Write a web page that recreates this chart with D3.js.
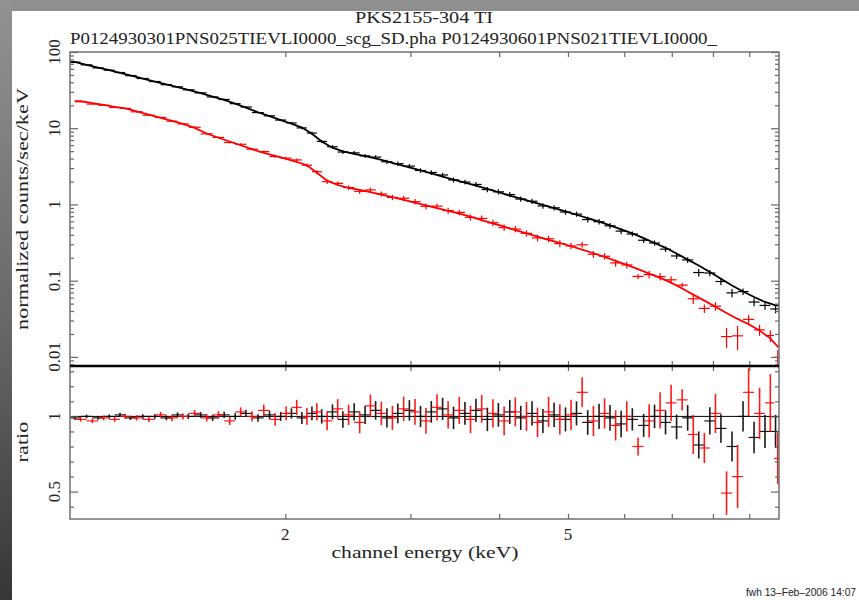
<!DOCTYPE html>
<html>
<head>
<meta charset="utf-8">
<script src="https://cdn.jsdelivr.net/npm/d3@7"></script>
<style>
body{margin:0;background:#fff;}
svg{display:block;}
text{font-family:"Liberation Serif","DejaVu Serif",serif;fill:#222;}
</style>
</head>
<body>
<div id="chart"></div>
<script>
// Channel energies (keV), model and ratio
var enBlack = [1.01,1.05,1.09,1.13,1.17,1.21,1.26,1.31,1.36,1.41,
	1.46,1.52,1.58,1.64,1.70,1.76,1.83,1.90,1.97,2.04,
	2.11,2.18,2.25,2.33,2.41,2.50,2.59,2.68,2.78,2.88,
	2.99,3.10,3.21,3.33,3.45,3.58,3.71,3.85,3.99,4.14,
	4.29,4.45,4.61,4.78,4.96,5.14,5.33,5.53,5.73,5.94,
	6.16,6.39,6.62,6.86,7.11,7.37,7.64,7.92,8.21,8.51,
	8.82,9.14,9.47,9.80];
var modelBlack = [74.2,67.9,62.5,57.7,53.3,49.4,44.9,41.0,37.6,34.6,
	31.9,28.8,26.0,23.6,21.0,18.6,16.2,14.4,12.8,11.5,
	10.2,8.47,6.71,5.55,4.97,4.61,4.30,4.02,3.67,3.36,
	3.06,2.79,2.55,2.32,2.12,1.93,1.76,1.60,1.45,1.31,
	1.19,1.08,0.986,0.895,0.811,0.733,0.660,0.594,0.530,0.471,
	0.418,0.361,0.312,0.270,0.227,0.189,0.158,0.130,0.106,0.0865,
	0.0720,0.0610,0.0526,0.0473];
var ratioBlack = [0.99,1.00,0.99,1.00,1.01,0.99,1.00,1.00,0.99,1.01,
	1.00,1.01,0.99,1.01,1.00,1.02,0.99,1.01,1.00,1.02,
	0.99,1.02,1.00,1.03,0.98,1.03,1.01,1.04,0.99,1.02,
	1.04,1.00,1.03,1.05,0.99,1.02,1.04,0.98,1.01,1.03,
	0.99,1.02,0.97,1.01,0.98,1.02,0.96,1.00,0.99,0.95,
	0.98,0.94,1.00,0.96,0.93,0.99,0.81,0.97,0.92,0.80,
	1.00,0.86,0.90,0.90];
var errBlack = [0.012,0.012,0.013,0.013,0.014,0.014,0.015,0.015,0.016,0.017,
	0.018,0.019,0.020,0.021,0.022,0.024,0.025,0.027,0.030,0.034,
	0.040,0.045,0.048,0.050,0.055,0.058,0.060,0.062,0.064,0.066,
	0.068,0.070,0.072,0.074,0.075,0.076,0.077,0.078,0.079,0.080,
	0.080,0.080,0.080,0.080,0.080,0.080,0.082,0.084,0.086,0.088,
	0.074,0.076,0.078,0.080,0.082,0.085,0.090,0.090,0.095,0.100,
	0.100,0.105,0.110,0.110];

var enRed = [1.03,1.07,1.11,1.15,1.19,1.235,1.285,1.335,1.385,1.435,
	1.49,1.55,1.61,1.67,1.73,1.795,1.865,1.935,2.005,2.075,
	2.145,2.215,2.29,2.37,2.455,2.545,2.635,2.73,2.83,2.935,
	3.045,3.155,3.27,3.39,3.515,3.645,3.78,3.92,4.065,4.215,
	4.37,4.53,4.695,4.87,5.05,5.235,5.43,5.63,5.835,6.05,
	6.275,6.505,6.74,6.985,7.24,7.505,7.78,8.065,8.36,8.665,
	8.98,9.305,9.635,9.87];
var modelRed = [22.7,21.4,20.2,19.1,18.2,16.6,15.1,13.7,12.5,11.4,
	10.1,8.53,7.50,6.70,5.98,5.31,4.74,4.34,3.97,3.62,
	3.27,2.61,2.05,1.80,1.65,1.55,1.45,1.35,1.25,1.15,
	1.057,0.975,0.897,0.824,0.757,0.690,0.625,0.565,0.511,0.462,
	0.418,0.379,0.344,0.313,0.283,0.255,0.229,0.205,0.182,0.161,
	0.142,0.124,0.109,0.0942,0.0788,0.0657,0.0548,0.0454,0.0377,0.0315,
	0.0268,0.0222,0.0175,0.0137];
var ratioRed = [0.98,0.97,0.99,0.98,1.00,0.99,0.98,1.01,0.99,1.00,
	1.02,0.99,1.01,0.97,1.03,1.00,1.04,0.98,1.02,1.06,
	1.00,1.03,0.97,1.05,1.01,0.96,1.07,1.02,0.99,1.05,
	1.03,0.97,1.06,1.01,1.04,0.98,1.05,1.02,0.97,1.03,
	1.00,0.96,1.03,0.98,1.01,1.16,0.97,1.02,0.94,1.00,
	0.80,0.97,1.04,1.09,1.11,0.88,0.79,1.02,0.49,0.60,
	1.16,1.02,1.09,0.72];
var errRed = [0.015,0.015,0.016,0.016,0.017,0.018,0.018,0.019,0.020,0.021,
	0.022,0.024,0.025,0.027,0.030,0.034,0.038,0.042,0.046,0.050,
	0.055,0.058,0.062,0.065,0.068,0.072,0.075,0.078,0.080,0.082,
	0.085,0.086,0.088,0.090,0.090,0.092,0.092,0.094,0.095,0.096,
	0.096,0.098,0.100,0.100,0.100,0.100,0.100,0.100,0.100,0.100,
	0.060,0.110,0.120,0.120,0.070,0.130,0.100,0.130,0.145,0.210,
	0.160,0.170,0.190,0.170];

// Axis ticks
var xTicks = [2,3,4,5,6,7,8,9];
var xLabels = [2,5];
var fluxMajor = [0.01,0.1,1,10,100];
var fluxLabels = ["0.01","0.1","1","10","100"];
var fluxMinor = [0.008,0.009,0.02,0.03,0.04,0.05,0.06,0.07,0.08,0.09,
	0.2,0.3,0.4,0.5,0.6,0.7,0.8,0.9,2,3,4,5,6,7,8,9,
	20,30,40,50,60,70,80,90];
var ratioMajor = [0.5,1];
var ratioLabels = ["0.5","1"];
var ratioMinor = [0.4,0.6,0.7,0.8,0.9,1.1,1.2,1.3];

var W = 859, H = 600;
var fr = {left: 70, right: 779, top: 52, mid: 366, bottom: 519};

var svg = d3.select("#chart").append("svg")
	.attr("width", W)
	.attr("height", H);

// page border
var defs = svg.append("defs");
var grad = defs.append("linearGradient").attr("id", "edge")
	.attr("x1", 0).attr("y1", 0).attr("x2", 0).attr("y2", 1);
grad.append("stop").attr("offset", "0%").attr("stop-color", "#929292");
grad.append("stop").attr("offset", "55%").attr("stop-color", "#676767");
grad.append("stop").attr("offset", "100%").attr("stop-color", "#363636");
svg.append("rect").attr("width", W).attr("height", H).attr("fill", "#fff");
svg.append("rect").attr("width", W).attr("height", 11).attr("fill", "#8f8f8f");
svg.append("rect").attr("width", 12).attr("height", H).attr("fill", "url(#edge)");

defs.append("clipPath").attr("id", "clipTop").append("rect")
	.attr("x", fr.left).attr("y", fr.top)
	.attr("width", fr.right - fr.left).attr("height", fr.mid - fr.top);
defs.append("clipPath").attr("id", "clipBot").append("rect")
	.attr("x", fr.left).attr("y", fr.mid)
	.attr("width", fr.right - fr.left).attr("height", fr.bottom - fr.mid);

// scales
var x = d3.scaleLog().domain([0.995, 9.91]).range([fr.left, fr.right]);
var yFlux = d3.scaleLog().domain([0.0076, 100]).range([fr.mid, fr.top]);
var yRat = d3.scaleLinear().domain([0.318, 1.335]).range([fr.bottom, fr.mid]);

function makeRows(en, model, ratio, err){
	return en.map(function(e, i){
		var lo = i > 0 ? Math.sqrt(en[i-1]*e) : e*Math.sqrt(e/en[i+1]);
		var hi = i < en.length-1 ? Math.sqrt(e*en[i+1]) : e*Math.sqrt(e/en[i-1]);
		return {e: e, lo: lo, hi: hi, model: model[i], ratio: ratio[i], err: err[i]};
	});
}

var series = [
	{color: "#000", rows: makeRows(enBlack, modelBlack, ratioBlack, errBlack)},
	{color: "#ff0000", rows: makeRows(enRed, modelRed, ratioRed, errRed)}
];

var gTop = svg.append("g").attr("clip-path", "url(#clipTop)");
var gBot = svg.append("g").attr("clip-path", "url(#clipBot)");

// ratio = 1 line
gBot.append("line")
	.attr("x1", fr.left).attr("x2", fr.right)
	.attr("y1", yRat(1)).attr("y2", yRat(1))
	.attr("stroke", "#000").attr("stroke-width", 1);

var modelLine = d3.line()
	.x(function(p){ return x(p[0]); })
	.y(function(p){ return yFlux(p[1]); });

series.forEach(function(s){
	// model through the bins
	var n = s.rows.length;
	var pts = [[s.rows[0].lo, s.rows[0].model]];
	s.rows.forEach(function(r){ pts.push([r.e, r.model]); });
	pts.push([s.rows[n-1].hi, s.rows[n-1].model]);
	gTop.append("path")
		.attr("d", modelLine(pts))
		.attr("fill", "none")
		.attr("stroke", s.color)
		.attr("stroke-width", 1.8);

	// data crosses
	var gd = gTop.append("g").attr("stroke", s.color).attr("stroke-width", 1.2);
	gd.selectAll(".h").data(s.rows).enter().append("line")
		.attr("x1", function(r){ return x(r.lo); })
		.attr("x2", function(r){ return x(r.hi); })
		.attr("y1", function(r){ return yFlux(r.model*r.ratio); })
		.attr("y2", function(r){ return yFlux(r.model*r.ratio); });
	gd.selectAll(".v").data(s.rows).enter().append("line")
		.attr("x1", function(r){ return x(r.e); })
		.attr("x2", function(r){ return x(r.e); })
		.attr("y1", function(r){ return yFlux(r.model*(r.ratio - r.err)); })
		.attr("y2", function(r){ return yFlux(r.model*(r.ratio + r.err)); });

	// ratio crosses
	var gr = gBot.append("g").attr("stroke", s.color).attr("stroke-opacity", 0.9);
	gr.selectAll(".h").data(s.rows).enter().append("line")
		.attr("stroke-width", 1.2)
		.attr("x1", function(r){ return x(r.lo); })
		.attr("x2", function(r){ return x(r.hi); })
		.attr("y1", function(r){ return yRat(r.ratio); })
		.attr("y2", function(r){ return yRat(r.ratio); });
	gr.selectAll(".v").data(s.rows).enter().append("line")
		.attr("stroke-width", 1.6)
		.attr("x1", function(r){ return x(r.e); })
		.attr("x2", function(r){ return x(r.e); })
		.attr("y1", function(r){ return yRat(r.ratio - r.err); })
		.attr("y2", function(r){ return yRat(r.ratio + r.err); });
});

// axes (ticks only, pointing inwards)
var tickCol = "#666";
function ticks(axis, tx, ty){
	var g = svg.append("g")
		.attr("transform", "translate(" + tx + "," + ty + ")")
		.call(axis.tickSizeOuter(0).tickFormat(""));
	g.select(".domain").remove();
	g.selectAll("line").attr("stroke", tickCol).attr("stroke-width", 1.2);
	return g;
}

ticks(d3.axisBottom(x).tickValues(xTicks).tickSizeInner(5), 0, fr.top);
ticks(d3.axisTop(x).tickValues(xTicks).tickSizeInner(5), 0, fr.mid);
ticks(d3.axisBottom(x).tickValues(xTicks).tickSizeInner(5), 0, fr.mid);
ticks(d3.axisTop(x).tickValues(xTicks).tickSizeInner(5), 0, fr.bottom);

ticks(d3.axisRight(yFlux).tickValues(fluxMajor).tickSizeInner(8), fr.left, 0);
ticks(d3.axisRight(yFlux).tickValues(fluxMinor).tickSizeInner(4), fr.left, 0);
ticks(d3.axisLeft(yFlux).tickValues(fluxMajor).tickSizeInner(8), fr.right, 0);
ticks(d3.axisLeft(yFlux).tickValues(fluxMinor).tickSizeInner(4), fr.right, 0);

ticks(d3.axisRight(yRat).tickValues(ratioMajor).tickSizeInner(8), fr.left, 0);
ticks(d3.axisRight(yRat).tickValues(ratioMinor).tickSizeInner(4), fr.left, 0);
ticks(d3.axisLeft(yRat).tickValues(ratioMajor).tickSizeInner(8), fr.right, 0);
ticks(d3.axisLeft(yRat).tickValues(ratioMinor).tickSizeInner(4), fr.right, 0);

// frame
svg.append("rect")
	.attr("x", fr.left).attr("y", fr.top)
	.attr("width", fr.right - fr.left).attr("height", fr.bottom - fr.top)
	.attr("fill", "none").attr("stroke", "#707070").attr("stroke-width", 1.5);
svg.append("line")
	.attr("x1", fr.left).attr("x2", fr.right)
	.attr("y1", fr.mid).attr("y2", fr.mid)
	.attr("stroke", "#000").attr("stroke-width", 2.5);

// tick labels
var fs = 17;
svg.selectAll(".fl").data(fluxMajor).enter().append("text")
	.attr("font-size", fs)
	.attr("text-anchor", "middle")
	.attr("transform", function(d){ return "translate(60," + yFlux(d) + ") rotate(-90)"; })
	.text(function(d, i){ return fluxLabels[i]; });
svg.selectAll(".rl").data(ratioMajor).enter().append("text")
	.attr("font-size", fs)
	.attr("text-anchor", "middle")
	.attr("transform", function(d){ return "translate(60," + yRat(d) + ") rotate(-90)"; })
	.text(function(d, i){ return ratioLabels[i]; });
svg.selectAll(".xl").data(xLabels).enter().append("text")
	.attr("font-size", fs)
	.attr("text-anchor", "middle")
	.attr("x", function(d){ return x(d); })
	.attr("y", 540)
	.text(function(d){ return d; });

// titles
svg.append("text").attr("font-size", fs).attr("text-anchor", "middle")
	.attr("x", 424).attr("y", 23)
	.attr("textLength", 138).attr("lengthAdjust", "spacingAndGlyphs")
	.text("PKS2155-304 TI");
svg.append("text").attr("font-size", fs)
	.attr("x", 70).attr("y", 44)
	.attr("textLength", 647).attr("lengthAdjust", "spacingAndGlyphs")
	.text("P0124930301PNS025TIEVLI0000_scg_SD.pha P0124930601PNS021TIEVLI0000_");
svg.append("text").attr("font-size", fs).attr("text-anchor", "middle")
	.attr("transform", "translate(28,209) rotate(-90)")
	.attr("textLength", 242).attr("lengthAdjust", "spacingAndGlyphs")
	.text("normalized counts/sec/keV");
svg.append("text").attr("font-size", fs).attr("text-anchor", "middle")
	.attr("transform", "translate(28,442) rotate(-90)")
	.attr("textLength", 41).attr("lengthAdjust", "spacingAndGlyphs")
	.text("ratio");
svg.append("text").attr("font-size", fs).attr("text-anchor", "middle")
	.attr("x", 425).attr("y", 558)
	.attr("textLength", 187).attr("lengthAdjust", "spacingAndGlyphs")
	.text("channel energy (keV)");
svg.append("text")
	.attr("x", 746).attr("y", 596)
	.style("font-family", "'Liberation Sans', Arial, sans-serif")
	.attr("font-size", 10)
	.attr("textLength", 110).attr("lengthAdjust", "spacingAndGlyphs")
	.text("fwh 13\u2013Feb\u20132006 14:07");
</script>
</body>
</html>
